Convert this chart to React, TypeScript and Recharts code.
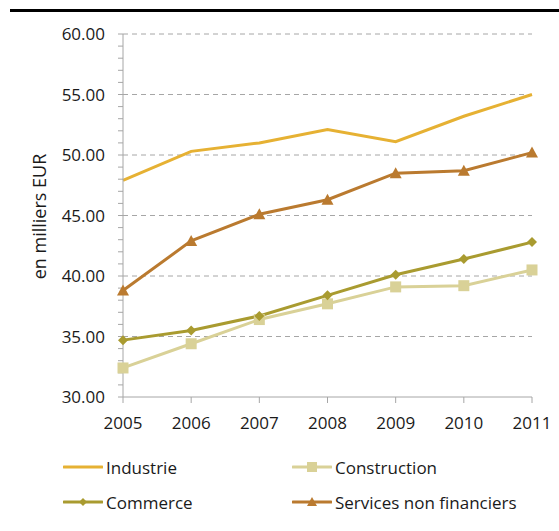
import React from "react"
import { Label, Line, LineChart, ReferenceLine, XAxis, YAxis } from "recharts"

const years = ["2005", "2006", "2007", "2008", "2009", "2010", "2011"]
const industrie = [47.9, 50.3, 51.0, 52.1, 51.1, 53.2, 55.0]
const construction = [32.4, 34.4, 36.4, 37.7, 39.1, 39.2, 40.5]
const commerce = [34.7, 35.5, 36.7, 38.4, 40.1, 41.4, 42.8]
const services = [38.8, 42.9, 45.1, 46.3, 48.5, 48.7, 50.2]

const majorTicks = [30, 35, 40, 45, 50, 55, 60]
const allTicks: number[] = []
for (let v = 30; v <= 60; v++) allTicks.push(v)

const data = years.map((year, i) => ({
  year,
  industrie: industrie[i],
  construction: construction[i],
  commerce: commerce[i],
  services: services[i],
}))

const COLORS = {
  industrie: "#E6B133",
  construction: "#D9D197",
  commerce: "#A99B30",
  services: "#BA7A2F",
}

const FONT = "'Open Sans', sans-serif"

const SquareDot = (props: any) => {
  const { cx, cy } = props
  if (cx == null || cy == null) return null
  return <rect x={cx - 5.5} y={cy - 5.5} width={11} height={11} fill={COLORS.construction} />
}

const DiamondDot = (props: any) => {
  const { cx, cy } = props
  if (cx == null || cy == null) return null
  return (
    <polygon
      points={`${cx},${cy - 5} ${cx + 5},${cy} ${cx},${cy + 5} ${cx - 5},${cy}`}
      fill={COLORS.commerce}
    />
  )
}

const TriangleDot = (props: any) => {
  const { cx, cy } = props
  if (cx == null || cy == null) return null
  return (
    <polygon
      points={`${cx},${cy - 6} ${cx + 6},${cy + 5} ${cx - 6},${cy + 5}`}
      fill={COLORS.services}
    />
  )
}

function LegendIcon({ color, marker }: { color: string; marker?: "square" | "diamond" | "triangle" }) {
  return (
    <svg width={40} height={12} style={{ display: "block" }}>
      <line x1={1} y1={6} x2={39} y2={6} stroke={color} strokeWidth={3} strokeLinecap="round" />
      {marker === "square" && <rect x={15} y={1} width={10} height={10} fill={color} />}
      {marker === "diamond" && <polygon points="20,2 24,6 20,10 16,6" fill={color} />}
      {marker === "triangle" && <polygon points="20,1 25,10 15,10" fill={color} />}
    </svg>
  )
}

const legendItems = [
  { label: "Industrie", color: COLORS.industrie, marker: undefined, left: 63, top: 467 },
  { label: "Construction", color: COLORS.construction, marker: "square", left: 292, top: 467 },
  { label: "Commerce", color: COLORS.commerce, marker: "diamond", left: 63, top: 502 },
  { label: "Services non financiers", color: COLORS.services, marker: "triangle", left: 292, top: 502 },
] as const

export default function App() {
  return (
    <div style={{ position: "absolute", left: 0, top: 0, width: 559, height: 531, background: "#fff", fontFamily: FONT }}>
      <div style={{ position: "absolute", left: 10, top: 9, width: 549, height: 3, background: "#000" }} />
      <LineChart
        width={559}
        height={531}
        data={data}
        margin={{ top: 34, right: 27, bottom: 104, left: 63 }}
      >
        {majorTicks.slice(1).map((v) => (
          <ReferenceLine key={v} y={v} stroke="#A6A6A6" strokeDasharray="5 4" strokeWidth={1} />
        ))}
        <XAxis
          dataKey="year"
          height={30}
          tickSize={6}
          tickMargin={14}
          stroke="#A6A6A6"
          tick={{ fill: "#1a1a1a", fontSize: 17, fontFamily: FONT }}
          interval={0}
        />
        <YAxis
          width={60}
          domain={[30, 60]}
          ticks={allTicks}
          interval={0}
          tickSize={5}
          tickMargin={13}
          stroke="#A6A6A6"
          tick={{ fill: "#1a1a1a", fontSize: 17, fontFamily: FONT }}
          tickFormatter={(v: number) => (v % 5 === 0 ? v.toFixed(2) : "")}
        >
          <Label
            content={({ viewBox }: any) => {
              const cy = viewBox.y + viewBox.height / 2
              return (
                <text
                  x={0}
                  y={0}
                  transform={`translate(46, ${cy + 1}) rotate(-90)`}
                  textAnchor="middle"
                  fill="#1a1a1a"
                  fontSize={18}
                  fontFamily={FONT}
                >
                  en milliers EUR
                </text>
              )
            }}
          />
        </YAxis>
        <Line dataKey="industrie" stroke={COLORS.industrie} strokeWidth={3} dot={false} isAnimationActive={false} />
        <Line dataKey="construction" stroke={COLORS.construction} strokeWidth={3} dot={<SquareDot />} isAnimationActive={false} />
        <Line dataKey="commerce" stroke={COLORS.commerce} strokeWidth={3} dot={<DiamondDot />} isAnimationActive={false} />
        <Line dataKey="services" stroke={COLORS.services} strokeWidth={3} dot={<TriangleDot />} isAnimationActive={false} />
      </LineChart>
      {legendItems.map((item) => (
        <div
          key={item.label}
          style={{
            position: "absolute",
            left: item.left,
            top: item.top - 12,
            height: 24,
            display: "flex",
            alignItems: "center",
            gap: 3,
            fontSize: 17,
            color: "#1a1a1a",
            whiteSpace: "nowrap",
          }}
        >
          <LegendIcon color={item.color} marker={item.marker as any} />
          <span>{item.label}</span>
        </div>
      ))}
    </div>
  )
}
